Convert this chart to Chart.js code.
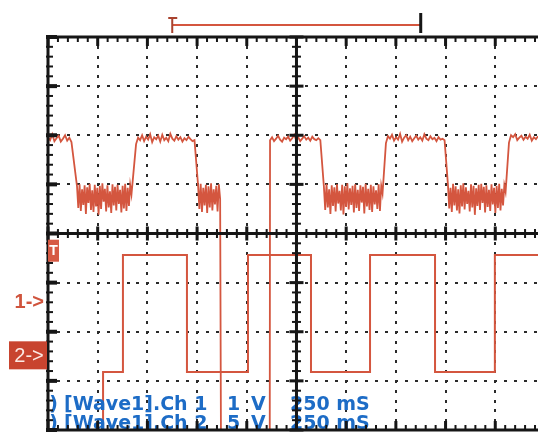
<!DOCTYPE html>
<html><head><meta charset="utf-8">
<script src="https://cdn.jsdelivr.net/npm/chart.js@4"></script>
<style>html,body{margin:0;padding:0;background:#fff;}canvas{display:block;}</style>
</head><body>
<canvas id="c" width="538" height="433"></canvas>
<script>
// ---- Data (time in ms, 250 ms/div; ch1 in V at 1 V/div; ch2 in V at 5 V/div) ----
const timeDivMs = 250;
const viewMaxMs = 2465;
const windowMarkerMs = [625, 1875];

const ch1SegStart = [0, 146, 443, 755, 872, 1117, 1388, 1700, 2012, 2319];
const ch1SegEnd   = [118, 420, 737, 866, 1115, 1370, 1683, 1995, 2302, 2465];
const ch1Seg0 = [3.36,3.30,3.42,3.28,3.34,3.39,3.27,3.33,3.40,3.29,3.35,3.26];
const ch1Seg1 = [2.36,1.92,2.40,1.86,2.30,1.98,2.38,1.80,2.34,2.02,2.41,1.88,2.28,1.84,2.39,1.95,2.33,1.78,2.37,1.90,2.42,2.05,2.31,1.85,2.38,1.93,2.26,1.82,2.40,1.97,2.35,1.87,2.39,2.00,2.29,1.83,2.37,1.91,2.41,1.86,2.33,1.96,2.38,2.20];
const ch1Seg2 = [3.22,3.35,3.30,3.40,3.28,3.37,3.31,3.42,3.26,3.36,3.32,3.39,3.27,3.41,3.30,3.35,3.28,3.43,3.33,3.29,3.38,3.31,3.36,3.27,3.34,3.30,3.37,3.32,3.28,3.30];
const ch1Seg3 = [2.38,1.90,2.41,1.84,2.33,1.97,2.39,1.82,2.36,1.93,2.42,1.87,2.30,1.99,2.37,1.85,2.40,2.10];
const ch1Seg4 = [-5,-5];
const ch1Seg5 = [3.30,3.36,3.28,3.33,3.39,3.31,3.27,3.35,3.32,3.37,3.29,3.34,3.41,3.30,3.36,3.28,3.33,3.38,3.31,3.35,3.29,3.37,3.32,3.30,3.34,3.30];
const ch1Seg6 = [2.35,1.88,2.41,1.93,2.30,1.80,2.38,1.96,2.34,1.85,2.40,2.01,2.27,1.87,2.39,1.79,2.36,1.94,2.42,1.89,2.32,1.98,2.37,1.83,2.40,1.92,2.29,1.86,2.38,2.03,2.35,1.81,2.41,1.95,2.31,1.88,2.39,1.84,2.36,1.99,2.28,1.90,2.40,1.86,2.37,2.22];
const ch1Seg7 = [3.24,3.38,3.33,3.41,3.29,3.36,3.31,3.43,3.27,3.35,3.40,3.30,3.37,3.28,3.34,3.39,3.31,3.36,3.29,3.42,3.33,3.30,3.38,3.32,3.35,3.28,3.36,3.31,3.33,3.30];
const ch1Seg8 = [2.39,1.91,2.33,1.84,2.41,1.97,2.36,1.87,2.30,1.81,2.38,1.95,2.42,1.89,2.34,2.00,2.27,1.85,2.40,1.93,2.37,1.78,2.32,1.96,2.39,1.88,2.41,2.02,2.35,1.83,2.38,1.94,2.29,1.86,2.40,1.99,2.33,1.82,2.37,1.92,2.41,1.87,2.31,1.97,2.38,2.25];
const ch1Seg9 = [3.25,3.40,3.36,3.42,3.30,3.35,3.39,3.31,3.37,3.33,3.41,3.29,3.36,3.32,3.38];
const ch1Segments = [ch1Seg0, ch1Seg1, ch1Seg2, ch1Seg3, ch1Seg4, ch1Seg5, ch1Seg6, ch1Seg7, ch1Seg8, ch1Seg9];

// Channel 2: square wave, level switches at these times
const ch2EdgeTimes = [0, 277, 377, 699, 1006, 1323, 1620, 1947, 2248, 2465];
const ch2Levels    = [-8, 0, 11.9, 0, 11.9, 0, 11.9, 0, 11.9, 11.9];

// Labels
const infoChannels = ["[Wave1].Ch 1", "[Wave1].Ch 2"];
const infoIndex = ["1)", "2)"];
const infoVoltsDiv = ["1", "5"];
const infoUnit = ["V", "V"];
const infoTimeDiv = ["250 mS", "250 mS"];

// ---- Build series ----
function buildCh1() {
  const pts = [];
  ch1Segments.forEach((vals, i) => {
    const s = ch1SegStart[i], e = ch1SegEnd[i], n = vals.length;
    vals.forEach((v, j) => pts.push({x: n > 1 ? s + (e - s) * j / (n - 1) : s, y: v}));
  });
  return pts;
}
const ch2Points = ch2EdgeTimes.map((t, i) => ({x: t, y: ch2Levels[i]}));

const RED = '#d4563f';
const BLUE = '#1d6cc6';
const INK = '#161616';

const scope = {
  id: 'scope',
  beforeDraw(chart) {
    const {ctx, width, height} = chart;
    ctx.save(); ctx.fillStyle = '#fff'; ctx.fillRect(0, 0, width, height); ctx.restore();
  },
  beforeDatasetsDraw(chart) {
    const {ctx, chartArea: a, scales: {x, ydiv}} = chart;
    ctx.save();
    ctx.fillStyle = '#2a2a2a';
    // vertical dotted graticule lines
    for (let k = 1; k <= 10; k++) {
      if (k === 5) continue;
      const px = Math.round(x.getPixelForValue(k * timeDivMs));
      if (px > a.right) continue;
      for (let m = -19; m <= 19; m++) {
        const py = Math.round(ydiv.getPixelForValue(m / 5));
        ctx.fillRect(px - 1, py - 1, 2, 3);
      }
    }
    // horizontal dotted graticule lines
    for (let k = -3; k <= 3; k++) {
      if (k === 0) continue;
      const py = Math.round(ydiv.getPixelForValue(k));
      for (let m = 1; ; m++) {
        const px = Math.round(x.getPixelForValue(m * timeDivMs / 5));
        if (px > a.right) break;
        ctx.fillRect(px - 1, py - 1, 3, 2);
      }
    }
    ctx.restore();
  },
  afterDatasetsDraw(chart) {
    const {ctx, chartArea: a, scales: {x, ydiv, y1}} = chart;
    ctx.save();
    // info text (clipped to plot area)
    ctx.save();
    ctx.beginPath(); ctx.rect(a.left, a.top, a.right - a.left, a.bottom - a.top); ctx.clip();
    ctx.fillStyle = BLUE;
    ctx.font = 'bold 19px "DejaVu Sans"';
    ctx.textBaseline = 'alphabetic';
    const baselines = [ydiv.getPixelForValue(-3.59), ydiv.getPixelForValue(-3.98)];
    for (let i = 0; i < 2; i++) {
      const b = baselines[i];
      ctx.textAlign = 'right'; ctx.fillText(infoIndex[i], 58, b);
      ctx.textAlign = 'left';
      ctx.fillText(infoChannels[i], 64, b);
      ctx.fillText(infoVoltsDiv[i], 227, b);
      ctx.fillText(infoUnit[i], 251, b);
      ctx.fillText(infoTimeDiv[i], 290, b);
    }
    ctx.restore();

    ctx.fillStyle = INK;
    const cx = x.getPixelForValue(5 * timeDivMs);
    const cy = ydiv.getPixelForValue(0);
    // center axes
    ctx.fillRect(cx - 1.5, a.top, 3, a.bottom - a.top);
    ctx.fillRect(a.left, cy - 1.5, a.right - a.left, 3);
    for (let m = -20; m <= 20; m++) {
      const py = ydiv.getPixelForValue(m / 5);
      const major = m % 5 === 0;
      const w = major ? 14 : 9, h = major ? 3 : 2;
      ctx.fillRect(cx - w / 2, py - h / 2, w, h);
      // left border ticks
      if (major) ctx.fillRect(a.left - 2, py - 2, 11, 4);
      else ctx.fillRect(a.left - 2, py - 1, 7, 2);
    }
    for (let m = 0; ; m++) {
      const v = m * timeDivMs / 5;
      const px = x.getPixelForValue(v);
      if (px > a.right + 2) break;
      const major = m % 5 === 0;
      const h = major ? 14 : 9, w = major ? 3 : 2;
      ctx.fillRect(px - w / 2, cy - h / 2, w, h);
      // top / bottom border ticks
      ctx.fillRect(px - w / 2, a.top, w, major ? 9 : 5);
      ctx.fillRect(px - w / 2, a.bottom - (major ? 9 : 5), w, major ? 9 : 5);
    }
    // borders
    ctx.fillRect(a.left - 1.5, a.top - 1.5, 3, a.bottom - a.top + 3);
    ctx.fillRect(a.left, a.top - 1.5, a.right - a.left, 3);
    ctx.fillRect(a.left, a.bottom - 1.5, a.right - a.left, 3);

    // memory window marker above the plot
    const wx0 = x.getPixelForValue(windowMarkerMs[0]);
    const wx1 = x.getPixelForValue(windowMarkerMs[1]);
    const my = a.top - 12;
    ctx.fillStyle = RED;
    ctx.fillRect(wx0, my - 1, wx1 - wx0, 2);
    ctx.fillStyle = '#a9432f';
    ctx.fillRect(wx0 - 1, my - 7, 2, 15);
    ctx.fillRect(wx0 - 4, my - 8, 9, 2);
    ctx.fillStyle = INK;
    ctx.fillRect(wx1 - 1.5, my - 12, 3, 20);

    // left-side markers
    const ty = ydiv.getPixelForValue(-0.35);
    ctx.fillStyle = '#d65a44';
    ctx.fillRect(a.left, ty - 11, 11, 22);
    ctx.fillStyle = '#fff';
    ctx.font = 'bold 14px "Liberation Sans"';
    ctx.textAlign = 'center'; ctx.textBaseline = 'middle';
    ctx.fillText('T', a.left + 5.5, ty);

    const g1 = y1.getPixelForValue(0);
    ctx.fillStyle = '#d0543d';
    ctx.font = 'bold 20px "Liberation Sans"';
    ctx.textAlign = 'right'; ctx.textBaseline = 'middle';
    ctx.fillText('1->', 44, g1);

    const g2 = ydiv.getPixelForValue(-2.48);
    ctx.fillStyle = '#c8442f';
    ctx.fillRect(9, g2 - 14, 38, 28);
    ctx.fillStyle = '#fbe9e4';
    ctx.font = '20px "Liberation Sans"';
    ctx.textAlign = 'center';
    ctx.fillText('2->', 29, g2 + 1);
    ctx.restore();
  }
};

new Chart(document.getElementById('c'), {
  type: 'line',
  data: {
    datasets: [
      {label: 'Ch 1', data: buildCh1(), yAxisID: 'y1', borderColor: RED, borderWidth: 1.8,
       pointRadius: 0, tension: 0},
      {label: 'Ch 2', data: ch2Points, yAxisID: 'y2', borderColor: RED, borderWidth: 2,
       pointRadius: 0, stepped: true}
    ]
  },
  options: {
    responsive: false,
    devicePixelRatio: 1,
    animation: false,
    layout: {padding: {left: 48, top: 37, right: 0, bottom: 3}},
    plugins: {legend: {display: false}, tooltip: {enabled: false}},
    scales: {
      x: {type: 'linear', min: 0, max: viewMaxMs, display: false},
      y1: {type: 'linear', min: -2.6, max: 5.4, display: false},
      y2: {type: 'linear', min: -5.9, max: 34.1, display: false},
      ydiv: {type: 'linear', min: -4, max: 4, display: false}
    }
  },
  plugins: [scope]
});
</script>
</body></html>
